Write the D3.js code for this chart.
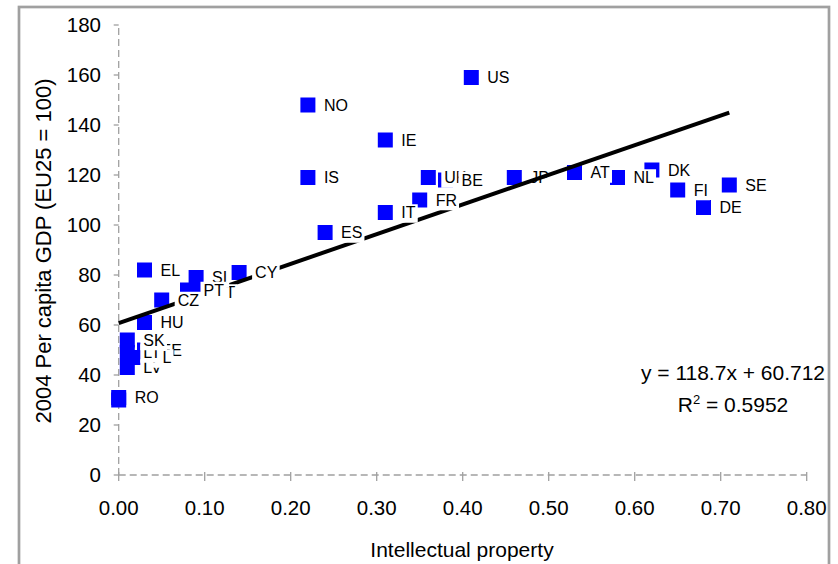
<!DOCTYPE html>
<html>
<head>
<meta charset="utf-8">
<script src="https://cdn.jsdelivr.net/npm/d3@7"></script>
<style>
  body { margin: 0; background: #fff; }
  text { font-family: Arial, "Liberation Sans", sans-serif; fill: #000; }
</style>
</head>
<body>
<svg id="chart" width="838" height="564"></svg>
<script>
// data (label drawing order follows the arrays)
const countries = ["BG", "RO", "LV", "EE", "PL", "LT", "SK", "HU", "MT", "SI", "PT", "CZ", "EL", "CY",
                   "ES", "IT", "FR", "IS", "NO", "IE", "UK", "BE", "US", "JP", "AT", "NL", "DK", "FI", "DE", "SE"];
const ipShare  = [0.00, 0.00, 0.01, 0.03, 0.02, 0.01, 0.01, 0.03, 0.09, 0.09, 0.08, 0.05, 0.03, 0.14,
                  0.24, 0.31, 0.35, 0.22, 0.22, 0.31, 0.36, 0.38, 0.41, 0.46, 0.53, 0.58, 0.62, 0.65, 0.68, 0.71];
const gdpIndex = [30, 31, 43, 50, 47, 49, 54, 61, 73, 79, 74, 70, 82, 81,
                  97, 105, 110, 119, 148, 134, 119, 118, 159, 119, 121, 119, 122, 114, 107, 116];
const xTicks = [0, 0.1, 0.2, 0.3, 0.4, 0.5, 0.6, 0.7, 0.8];
const yTicks = [0, 20, 40, 60, 80, 100, 120, 140, 160, 180];
const trendSlope = 118.7;
const trendIntercept = 60.712;
const trendR2 = "0.5952";
const labelsUnderLine = ["JP"];

const svg = d3.select("#chart");

let x = d3.scaleLinear().domain([0, 0.8]).range([118.7, 806.7]);
let y = d3.scaleLinear().domain([0, 180]).range([475, 25]);

// outer frame
svg.append("rect")
    .attr("x", 19).attr("y", 7)
    .attr("width", 810).attr("height", 570)
    .style("fill", "none")
    .style("stroke", "#a0a0a0")
    .style("stroke-width", "2.7px");

// axes: dashed gray lines
svg.append("line")
    .attr("x1", x(0)).attr("x2", x(0))
    .attr("y1", y(0)).attr("y2", y(180))
    .style("stroke", "#a0a0a0").style("stroke-width", "1.3px")
    .style("stroke-dasharray", "7,4");
svg.append("line")
    .attr("x1", x(0)).attr("x2", x(0.8))
    .attr("y1", y(0)).attr("y2", y(0))
    .style("stroke", "#a0a0a0").style("stroke-width", "1.3px")
    .style("stroke-dasharray", "7,4");

svg.selectAll("line.ytick")
    .data(yTicks)
    .enter().append("line")
    .attr("class", "ytick")
    .attr("x1", x(0) - 5).attr("x2", x(0))
    .attr("y1", d => y(d)).attr("y2", d => y(d))
    .style("stroke", "#a0a0a0").style("stroke-width", "1.3px");

svg.selectAll("line.xtick")
    .data(xTicks)
    .enter().append("line")
    .attr("class", "xtick")
    .attr("x1", d => x(d)).attr("x2", d => x(d))
    .attr("y1", y(0) - 3).attr("y2", y(0) + 6)
    .style("stroke", "#a0a0a0").style("stroke-width", "1.3px");

svg.selectAll("text.ylab")
    .data(yTicks)
    .enter().append("text")
    .attr("class", "ylab")
    .attr("x", 101)
    .attr("y", d => y(d))
    .attr("dy", "0.36em")
    .style("text-anchor", "end")
    .style("font-size", "20.5px")
    .text(d => d);

svg.selectAll("text.xlab")
    .data(xTicks)
    .enter().append("text")
    .attr("class", "xlab")
    .attr("x", d => x(d))
    .attr("y", 515)
    .style("text-anchor", "middle")
    .style("font-size", "20.5px")
    .text(d => d3.format(".2f")(d));

// axis titles
svg.append("text")
    .attr("transform", "translate(51,251) rotate(-90)")
    .style("text-anchor", "middle")
    .style("font-size", "22px")
    .text("2004 Per capita GDP (EU25 = 100)");

svg.append("text")
    .attr("x", 462).attr("y", 557)
    .style("text-anchor", "middle")
    .style("font-size", "21px")
    .text("Intellectual property");

// markers
const points = countries.map((c, i) => ({ name: c, ip: ipShare[i], gdp: gdpIndex[i] }));

svg.append("g").selectAll("rect")
    .data(points)
    .enter().append("rect")
    .attr("x", d => x(d.ip) - 7.5)
    .attr("y", d => y(d.gdp) - 7.5)
    .attr("width", 15).attr("height", 15)
    .style("fill", "#0000ff");

// data labels on white boxes, later ones hide earlier ones
function drawLabels(g, data) {
    let lab = g.selectAll("g")
        .data(data)
        .enter().append("g");
    lab.append("rect").attr("class", "bg");
    lab.append("text")
        .attr("x", d => x(d.ip) + 16)
        .attr("y", d => y(d.gdp))
        .attr("dy", "0.36em")
        .style("font-size", "16px")
        .text(d => d.name);
    lab.each(function () {
        let bb = d3.select(this).select("text").node().getBBox();
        d3.select(this).select("rect.bg")
            .attr("x", bb.x - 3).attr("y", bb.y)
            .attr("width", bb.width + 5).attr("height", bb.height + 1.5)
            .style("fill", "#fff");
    });
}

drawLabels(svg.append("g"), points.filter(d => labelsUnderLine.includes(d.name)));

// linear trend line
let xMax = d3.max(ipShare);
svg.append("line")
    .attr("x1", x(0)).attr("y1", y(trendIntercept))
    .attr("x2", x(xMax)).attr("y2", y(trendSlope * xMax + trendIntercept))
    .style("stroke", "#000")
    .style("stroke-width", "4px");

drawLabels(svg.append("g"), points.filter(d => !labelsUnderLine.includes(d.name)));

// equation
let eq = svg.append("g").style("font-size", "21px");
eq.append("text")
    .attr("x", 733).attr("y", 380)
    .style("text-anchor", "middle")
    .text("y = " + trendSlope + "x + " + trendIntercept);
let r2 = eq.append("text")
    .attr("x", 733).attr("y", 412)
    .style("text-anchor", "middle");
r2.append("tspan").text("R");
r2.append("tspan").attr("dy", -8).style("font-size", "13px").text("2");
r2.append("tspan").attr("dy", 8).text(" = " + trendR2);
</script>
</body>
</html>
